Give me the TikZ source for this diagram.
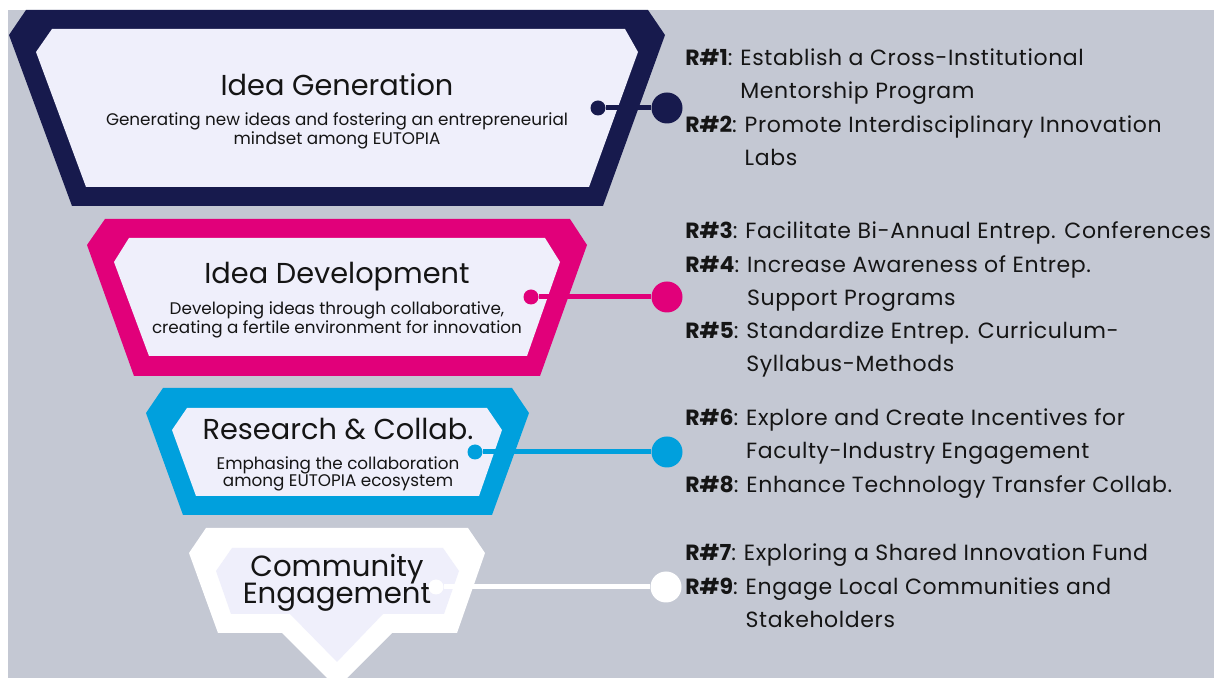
\documentclass[tikz,border=0pt]{standalone}
\usepackage{fontspec}
\setmainfont{Poppins}

\definecolor{bggray}{HTML}{C4C8D3}
\definecolor{stagenavy}{HTML}{171A4D}
\definecolor{stagepink}{HTML}{E1007A}
\definecolor{stagecyan}{HTML}{00A0DD}
\definecolor{stagefill}{HTML}{EFEFFB}
\definecolor{inktext}{HTML}{151515}

% one recommendation: bold tag, wrapped text hangs after the colon
\newcommand{\recitem}[2]{\textbf{#1}: \parbox[t]{300pt}{\addfontfeatures{LetterSpace=2.8}#2}}

\begin{document}
\begin{tikzpicture}[x=0.5pt, y=-0.5pt,
  title/.style={text=inktext, font=\fontsize{14.4}{15}\selectfont},
  blurb/.style={text=inktext, align=center, font=\fontsize{8.4}{8.5}\selectfont},
  startdot/.style={circle, fill, inner sep=0pt, minimum size=7.5pt},
  enddot/.style={circle, fill, inner sep=0pt, minimum size=15.5pt},
  link/.style={line width=2.5pt},
  rec/.style={anchor=base west, text=inktext, inner sep=0pt,
    font=\fontsize{11}{16.65}\selectfont}]

% Canvas
\useasboundingbox (0,0) rectangle (1217,678);
\clip (0,0) rectangle (1217,678);
\fill[white] (0,0) rectangle (1217,678);
\fill[bggray] (8,10) rectangle (1214,678);

% Stage 1: idea generation
\fill[stagenavy] (26,10) -- (648,10) -- (665,35) -- (603,206) -- (72,206) -- (9,35) -- cycle;
\fill[stagefill] (52,29) -- (625,29) -- (638,52) -- (589,187) -- (86,187) -- (36,52) -- cycle;
\node[title] (gen) at (337,85) {Idea Generation};
\node[blurb] (gen-txt) at (337,131) {Generating new ideas and fostering an entrepreneurial\\mindset among EUTOPIA};

% Stage 2: idea development
\fill[stagepink] (105,219) -- (570,219) -- (587,245) -- (540,376) -- (134,376) -- (87,245) -- cycle;
\fill[stagefill] (129,238) -- (545,238) -- (560,262) -- (527,356) -- (149,356) -- (114,262) -- cycle;
\node[title] (dev) at (337,277) {Idea Development};
\node[blurb] (dev-txt) at (337,320) {Developing ideas through collaborative,\\creating a fertile environment for innovation};

% Stage 3: research and collaboration
\fill[stagecyan] (163,388) -- (512,388) -- (529,413) -- (492,515) -- (183,515) -- (146,413) -- cycle;
\fill[stagefill] (187,408) -- (487,408) -- (502,430) -- (479,496) -- (196,496) -- (172,430) -- cycle;
\node[title] (res) at (338,429) {Research \& Collab.};
\node[blurb] (res-txt) at (338,474) {Emphasing the collaboration\\among EUTOPIA ecosystem};

% Stage 4: community engagement (funnel tip)
\fill[white] (206,528) -- (468,528) -- (485,553) -- (457,633) -- (392,633) -- (337,688) -- (282,633) -- (218,633) -- (189,553) -- cycle;
\fill[stagefill] (232,548) -- (443,548) -- (459,571) -- (444,614) -- (383,614) -- (337,662) -- (290,614) -- (231,614) -- (216,571) -- cycle;
\node[title, align=center, font={\fontsize{14.6}{13.8}\selectfont\lineskiplimit=-10pt\relax}] (com) at (337,583) {Community\\Engagement};

% Connectors to the recommendations
\node[startdot, stagenavy] (gen-in) at (598,108) {};
\node[enddot, stagenavy] (gen-out) at (667,108) {};
\draw[link, stagenavy] (gen-in) -- (gen-out);

\node[startdot, stagepink] (dev-in) at (531,297) {};
\node[enddot, stagepink] (dev-out) at (667,297) {};
\draw[link, stagepink] (dev-in) -- (dev-out);

\node[startdot, stagecyan] (res-in) at (475,452) {};
\node[enddot, stagecyan] (res-out) at (667,452) {};
\draw[link, stagecyan] (res-in) -- (res-out);

\node[startdot, white] (com-in) at (436,587) {};
\node[enddot, white] (com-out) at (666,587) {};
\draw[link, white] (com-in) -- (com-out);

% Recommendations
\node[rec] (r1) at (685,65.5) {\recitem{R\#1}{Establish a Cross-Institutional\\Mentorship Program}};
\node[rec] (r2) at (685,132.5) {\recitem{R\#2}{Promote Interdisciplinary Innovation\\Labs}};
\node[rec] (r3) at (685,238.5) {\recitem{R\#3}{Facilitate Bi-Annual Entrep. Conferences}};
\node[rec] (r4) at (685,272.5) {\recitem{R\#4}{Increase Awareness of Entrep.\\Support Programs}};
\node[rec] (r5) at (685,338.5) {\recitem{R\#5}{Standardize Entrep. Curriculum-\\Syllabus-Methods}};
\node[rec] (r6) at (685,425.5) {\recitem{R\#6}{Explore and Create Incentives for\\Faculty-Industry Engagement}};
\node[rec] (r8) at (685,492.5) {\recitem{R\#8}{Enhance Technology Transfer Collab.}};
\node[rec] (r7) at (685,560.5) {\recitem{R\#7}{Exploring a Shared Innovation Fund}};
\node[rec] (r9) at (685,594.5) {\recitem{R\#9}{Engage Local Communities and\\Stakeholders}};
\end{tikzpicture}
\end{document}
